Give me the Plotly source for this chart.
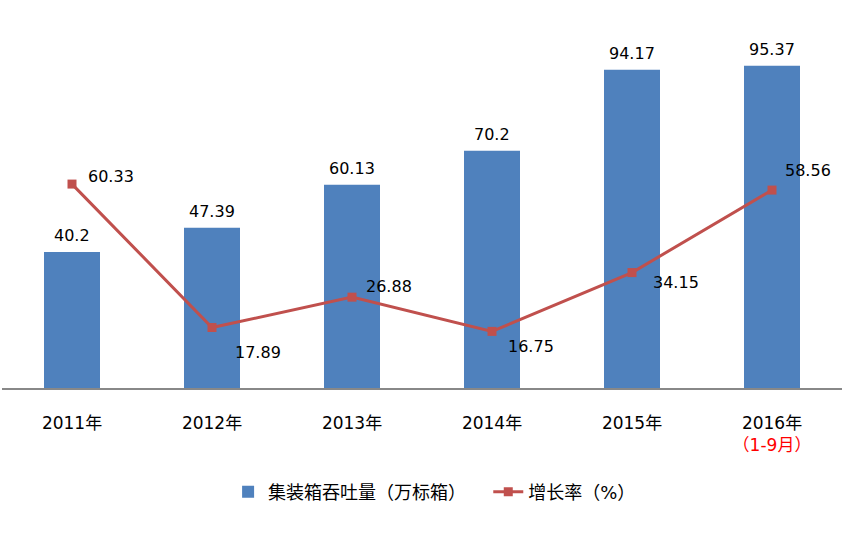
import plotly.graph_objects as go

categories = ["2011年", "2012年", "2013年", "2014年", "2015年", "2016年"]
tick_labels = ["2011年", "2012年", "2013年", "2014年", "2015年",
               "2016年<br><span style='color:#FF0000'>（1-9月）</span>"]
throughput = [40.2, 47.39, 60.13, 70.2, 94.17, 95.37]
growth = [60.33, 17.89, 26.88, 16.75, 34.15, 58.56]
growth_labels = ["60.33", "17.89", "26.88", "16.75", "34.15", "58.56"]
bar_labels = ["40.2", "47.39", "60.13", "70.2", "94.17", "95.37"]

# label offsets (px) for growth labels
label_dx = [14, 21, 12, 14, 19, 11]
label_dy = [8, -25, 11, -15, -10, 20]

FONT = "DejaVu Sans, Noto Sans CJK SC, sans-serif"

fig = go.Figure()
fig.add_trace(go.Bar(
    x=categories, y=throughput, name="集装箱吞吐量（万标箱）\u00a0\u00a0\u00a0",
    marker=dict(color="#4F81BD", line=dict(width=0)),
    width=0.4,
))
fig.add_trace(go.Scatter(
    x=categories, y=growth, name="增长率（%）", mode="lines+markers",
    line=dict(color="#C0504D", width=3),
    marker=dict(symbol="square", size=9, color="#C0504D"),
))

for c, v, t in zip(categories, throughput, bar_labels):
    fig.add_annotation(x=c, y=v, text=t, showarrow=False, xanchor="center",
                       yanchor="bottom", yshift=5,
                       font=dict(size=16, color="#000000", family=FONT))

for c, v, t, dx, dy in zip(categories, growth, growth_labels, label_dx, label_dy):
    fig.add_annotation(x=c, y=v, text=t, showarrow=False, xanchor="left",
                       yanchor="middle", xshift=dx, yshift=dy,
                       font=dict(size=16, color="#000000", family=FONT))

fig.update_layout(
    width=844, height=546,
    margin=dict(l=2, r=2, t=50, b=158),
    plot_bgcolor="white", paper_bgcolor="white",
    font=dict(family=FONT, size=16, color="#000000"),
    legend=dict(orientation="h", x=0.515, xanchor="center", y=-0.308,
                yanchor="middle", font=dict(size=18, family=FONT),
                itemwidth=30),
    showlegend=True,
)
fig.update_xaxes(tickmode="array", tickvals=categories, ticktext=tick_labels,
                 showline=True, linecolor="#888888", linewidth=1.5,
                 ticks="", showgrid=False, tickfont=dict(size=17, family=FONT),
                 ticklabelstandoff=19)
fig.update_yaxes(range=[0, 100], visible=False, showgrid=False)

fig.write_html("out.html", config={"displayModeBar": False},
               post_script="document.body.style.margin='0';")
